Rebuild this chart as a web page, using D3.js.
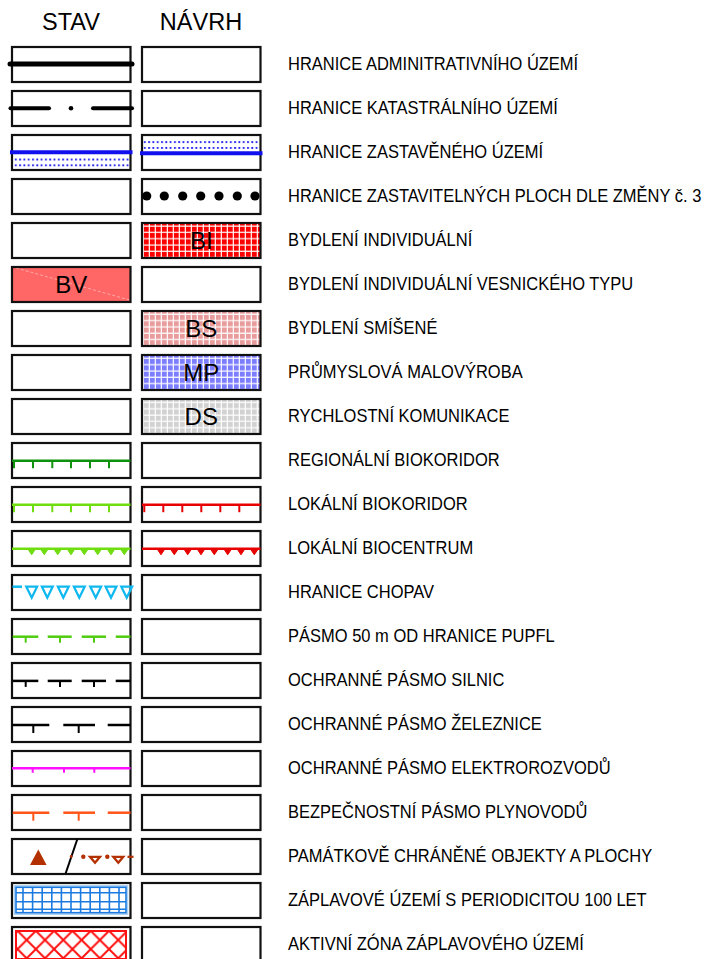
<!DOCTYPE html>
<html><head><meta charset="utf-8">
<script src="https://cdn.jsdelivr.net/npm/d3@7"></script>
<style>body{margin:0;background:#fff} svg{display:block}</style>
</head><body><svg id="c" width="707" height="959"></svg>
<script>
const headers = ["STAV", "NÁVRH"];
const labels = [
  "HRANICE ADMINITRATIVNÍHO ÚZEMÍ",
  "HRANICE KATASTRÁLNÍHO ÚZEMÍ",
  "HRANICE ZASTAVĚNÉHO ÚZEMÍ",
  "HRANICE ZASTAVITELNÝCH PLOCH DLE ZMĚNY č. 3",
  "BYDLENÍ INDIVIDUÁLNÍ",
  "BYDLENÍ INDIVIDUÁLNÍ VESNICKÉHO TYPU",
  "BYDLENÍ SMÍŠENÉ",
  "PRŮMYSLOVÁ MALOVÝROBA",
  "RYCHLOSTNÍ KOMUNIKACE",
  "REGIONÁLNÍ BIOKORIDOR",
  "LOKÁLNÍ BIOKORIDOR",
  "LOKÁLNÍ BIOCENTRUM",
  "HRANICE CHOPAV",
  "PÁSMO 50 m OD HRANICE PUPFL",
  "OCHRANNÉ PÁSMO SILNIC",
  "OCHRANNÉ PÁSMO ŽELEZNICE",
  "OCHRANNÉ PÁSMO ELEKTROROZVODŮ",
  "BEZPEČNOSTNÍ PÁSMO PLYNOVODŮ",
  "PAMÁTKOVĚ CHRÁNĚNÉ OBJEKTY A PLOCHY",
  "ZÁPLAVOVÉ ÚZEMÍ S PERIODICITOU 100 LET",
  "AKTIVNÍ ZÓNA ZÁPLAVOVÉHO ÚZEMÍ"
];
const stavSymbols = ["admin","katastr","zastavStav","","","bv","","","","regBio","lokBioStav","lokBcStav","chopav","pupfl","silnic","zeleznice","elektro","plyn","pamatky","zaplav","aktivni"];
const navrhSymbols = ["","","zastavNavrh","zastavitelne","bi","","bs","mp","ds","","lokBioNavrh","lokBcNavrh","","","","","","","","",""];
const stavTexts  = ["","","","","","BV","","","","","","","","","","","","","","",""];
const navrhTexts = ["","","","","BI","","BS","MP","DS","","","","","","","","","","","",""];

const svg = d3.select("#c");
const defs = svg.append("defs");
const FONT = "'Liberation Sans', Arial, sans-serif";

// scales
const xCol = d3.scaleBand().domain(headers).range([6, 266]);
const yRow = d3.scaleBand().domain(d3.range(labels.length)).range([45, 45 + labels.length * 44]);
const BOX_W = 118.5, BOX_H = 35;

// patterns
function gridPattern(id, bg) {
  const p = defs.append("pattern").attr("id", id).attr("patternUnits", "userSpaceOnUse")
    .attr("width", 6).attr("height", 6.3);
  p.append("rect").attr("width", 6).attr("height", 6.3).attr("fill", bg);
  p.append("rect").attr("x", 4.7).attr("width", 1.3).attr("height", 6.3).attr("fill", "#fff").attr("opacity", 0.9);
  p.append("rect").attr("y", 5).attr("width", 6).attr("height", 1.3).attr("fill", "#fff").attr("opacity", 0.9);
}
gridPattern("pBI", "#ff0000");
gridPattern("pBS", "#e89c9c");
gridPattern("pMP", "#7d7dff");
gridPattern("pDS", "#d2d2d2");
const pd = defs.append("pattern").attr("id", "pDots").attr("patternUnits", "userSpaceOnUse")
  .attr("width", 4.3).attr("height", 5.8).attr("x", 1).attr("y", 1);
pd.append("rect").attr("x", 1).attr("y", 1).attr("width", 1.8).attr("height", 1.8).attr("fill", "#1010ee");
const px = defs.append("pattern").attr("id", "pCross").attr("patternUnits", "userSpaceOnUse")
  .attr("width", 18.3).attr("height", 18.3).attr("x", 17.55).attr("y", 930.85);
px.append("path").attr("d", "M-1,-1L19.3,19.3M-1,19.3L19.3,-1").attr("stroke", "#ff1010").attr("stroke-width", 2).attr("fill", "none");

const fills = { bi: "url(#pBI)", bs: "url(#pBS)", mp: "url(#pMP)", ds: "url(#pDS)", bv: "#ff6666" };

function line(g, x1, y1, x2, y2, color, w, cap) {
  g.append("line").attr("x1", x1).attr("y1", y1).attr("x2", x2).attr("y2", y2)
    .attr("stroke", color).attr("stroke-width", w).attr("stroke-linecap", cap || "butt");
}
function tickLine(g, x0, y, color, ticks, tlen) {
  line(g, x0, y, x0 + BOX_W, y, color, 2.5);
  ticks.forEach(t => line(g, x0 + t, y, x0 + t, y + tlen, color, 2));
}
function dashTicks(g, x0, y, color, dashes, ticks, tlen) {
  dashes.forEach(d => line(g, x0 + d[0], y, x0 + d[1], y, color, 2.5));
  ticks.forEach(t => line(g, x0 + t, y, x0 + t, y + tlen, color, 2));
}
function triRow(g, x0, y, color, xs, hw, h, filled) {
  xs.forEach(t => g.append("path")
    .attr("d", `M${x0 + t - hw},${y}L${x0 + t + hw},${y}L${x0 + t},${y + h}Z`)
    .attr("fill", filled ? color : "none").attr("stroke", color)
    .attr("stroke-width", filled ? 1 : 2.3).attr("stroke-linejoin", "miter"));
}

const draw = {
  admin: (g, x0, yc) => line(g, x0 - 2, yc - 0.5, x0 + BOX_W + 1.5, yc - 0.5, "#000", 5, "round"),
  katastr: (g, x0, yc) => {
    line(g, x0 - 1.5, yc - 0.2, x0 + 37, yc - 0.2, "#000", 4, "round");
    g.append("circle").attr("cx", x0 + 59).attr("cy", yc - 0.2).attr("r", 2.3).attr("fill", "#000");
    line(g, x0 + 81, yc - 0.2, x0 + BOX_W + 1.5, yc - 0.2, "#000", 4, "round");
  },
  zastavStav: (g, x0, yc) => {
    g.append("rect").attr("x", x0 + 1).attr("y", yc + 2.5).attr("width", BOX_W - 2).attr("height", 13.5).attr("fill", "url(#pDots)");
    line(g, x0 - 2, yc - 0.2, x0 + BOX_W + 2, yc - 0.2, "#1010ee", 4);
  },
  zastavNavrh: (g, x0, yc) => {
    g.append("rect").attr("x", x0 + 1).attr("y", yc - 14.5).attr("width", BOX_W - 2).attr("height", 12).attr("fill", "url(#pDots)");
    line(g, x0 - 2, yc + 0.8, x0 + BOX_W + 2, yc + 0.8, "#1010ee", 4);
  },
  zastavitelne: (g, x0, yc) => {
    [4.7, 22.3, 40.7, 58.7, 77, 95.3, 113].forEach(t =>
      g.append("circle").attr("cx", x0 + t).attr("cy", yc - 0.5).attr("r", 4.6).attr("fill", "#000"));
  },
  regBio: (g, x0, yc) => tickLine(g, x0, yc + 0.2, "#0e920e", [2, 21, 40.3, 59, 78, 97], 7.5),
  lokBioStav: (g, x0, yc) => tickLine(g, x0, yc + 0.2, "#70dd10", [2, 21, 40.3, 59, 78, 97], 7.5),
  lokBioNavrh: (g, x0, yc) => tickLine(g, x0, yc + 0.2, "#e80000", [2.3, 21.3, 40.3, 59.3, 78.3, 97.3], 7.5),
  lokBcStav: (g, x0, yc) => {
    line(g, x0, yc + 0.3, x0 + BOX_W, yc + 0.3, "#70dd10", 2.5);
    triRow(g, x0, yc + 0.3, "#70dd10", [19.7, 32.3, 45.7, 59, 72.3, 85.7, 99, 112.3], 4, 6, true);
  },
  lokBcNavrh: (g, x0, yc) => {
    line(g, x0, yc + 0.3, x0 + BOX_W, yc + 0.3, "#e80000", 2.5);
    triRow(g, x0, yc + 0.3, "#e80000", [19, 32.3, 45.7, 59, 72.3, 85.7, 99, 112.3], 4, 6, true);
  },
  chopav: (g, x0, yc) => {
    line(g, x0 + 0.5, yc - 5.8, x0 + 10, yc - 5.8, "#10b8f0", 2.5);
    triRow(g, x0, yc - 5.8, "#10b8f0", [19.7, 35.3, 51.3, 67.3, 83.7, 99, 114.7], 5.4, 11, false);
  },
  pupfl: (g, x0, yc) => dashTicks(g, x0, yc + 0.2, "#50cc10", [[0.7, 26.3], [35.7, 59.7], [69.7, 94], [103.7, BOX_W]], [13.7, 48, 82], 6),
  silnic: (g, x0, yc) => dashTicks(g, x0, yc + 0.4, "#000", [[0.7, 26.3], [35.7, 59.7], [69.7, 94], [103.7, BOX_W]], [13.7, 48, 82], 6),
  zeleznice: (g, x0, yc) => dashTicks(g, x0, yc + 0.5, "#000", [[0.7, 37.3], [51.3, 83], [95.7, BOX_W]], [21.3, 66.7], 8),
  elektro: (g, x0, yc) => tickLine(g, x0, yc - 0.2, "#ff10ff", [20.7, 52, 82.3], 4.5),
  plyn: (g, x0, yc) => dashTicks(g, x0, yc + 0.2, "#ff5518", [[0.7, 37.3], [51.3, 83], [95.7, BOX_W]], [21.3, 66.7], 8),
  pamatky: (g, x0, yc) => {
    const c = "#b33000";
    g.append("path").attr("d", `M${x0 + 26.3},${yc - 7}L${x0 + 34.6},${yc + 8.5}L${x0 + 18},${yc + 8.5}Z`).attr("fill", c);
    line(g, x0 + 65.3, yc - 17.2, x0 + 53.7, yc + 16.8, "#000", 2);
    g.append("circle").attr("cx", x0 + 59.2).attr("cy", yc).attr("r", 1.4).attr("fill", c);
    [71.3, 95.3].forEach(t => g.append("circle").attr("cx", x0 + t).attr("cy", yc + 0.3).attr("r", 2.2).attr("fill", c));
    triRow(g, x0, yc + 0.3, c, [83, 106.3], 5, 6, false);
    line(g, x0 + 115.5, yc + 0.3, x0 + 121.5, yc + 0.3, c, 2.2);
  },
  zaplav: (g, x0, yc) => {
    const top = yc - 13.2, bot = yc + 12.2, l = x0 + 4, r = x0 + 114;
    g.append("rect").attr("x", l - 1.5).attr("y", top - 1.5).attr("width", r - l + 3).attr("height", bot - top + 3)
      .attr("fill", "none").attr("stroke", "#a8d0f4").attr("stroke-width", 1.5);
    g.append("rect").attr("x", l).attr("y", top).attr("width", r - l).attr("height", bot - top)
      .attr("fill", "#fff").attr("stroke", "#1a7ae0").attr("stroke-width", 1.6);
    d3.range(11, 110, 9.6).forEach(t => line(g, x0 + t, top, x0 + t, bot, "#1a7ae0", 1.6));
    [-7.8, 1.2, 8.8].forEach(d => line(g, l, yc + d, r, yc + d, "#1a7ae0", 1.6));
  },
  aktivni: (g, x0, yc) => {
    g.append("rect").attr("x", x0 + 4).attr("y", yc - 13.5).attr("width", 110).attr("height", 28)
      .attr("fill", "url(#pCross)").attr("stroke", "#ff1010").attr("stroke-width", 2);
  }
};

// headers
svg.append("g").selectAll("text").data(headers).join("text")
  .attr("x", d => xCol(d) + xCol.bandwidth() / 2).attr("y", 30)
  .attr("text-anchor", "middle").attr("font-family", FONT).attr("font-size", 23.5)
  .attr("fill", "#000").text(d => d);

// rows
const rows = svg.append("g").selectAll("g.row").data(labels.map((l, i) => ({ i, l })))
  .join("g").attr("class", "row");

rows.each(function (d) {
  const g = d3.select(this);
  const yTop = yRow(d.i) + 2, yc = yTop + BOX_H / 2;
  [[headers[0], stavSymbols[d.i], stavTexts[d.i]], [headers[1], navrhSymbols[d.i], navrhTexts[d.i]]].forEach(([col, sym, txt]) => {
    const x0 = xCol(col) + 6;
    const cell = g.append("g");
    cell.append("rect").attr("x", x0).attr("y", yTop).attr("width", BOX_W).attr("height", BOX_H)
      .attr("fill", fills[sym] || "#fff").attr("stroke", "none");
    if (sym === "bv") {
      cell.append("line").attr("x1", x0 + 4).attr("y1", yTop + 1).attr("x2", x0 + BOX_W - 1).attr("y2", yTop + BOX_H - 2)
        .attr("stroke", "#ffb8b8").attr("stroke-width", 0.8).attr("stroke-dasharray", "3,2");
    }
    cell.append("rect").attr("x", x0).attr("y", yTop).attr("width", BOX_W).attr("height", BOX_H)
      .attr("fill", "none").attr("stroke", "#111").attr("stroke-width", 2.2);
    if (draw[sym]) draw[sym](cell, x0, yc);
    if (txt) {
      cell.append("text").attr("x", x0 + BOX_W / 2).attr("y", yc + 8.5).attr("text-anchor", "middle")
        .attr("font-family", FONT).attr("font-size", 24).attr("fill", "#000").text(txt);
    }
  });
  g.append("text").attr("class", "lbl").attr("font-family", FONT).attr("font-size", 17.8)
    .attr("fill", "#000").attr("data-y", yc + 5.8).text(d.l);
});

// condense label text to match the original narrow lettering
const first = svg.select("text.lbl").node();
const k = 290 / first.getComputedTextLength();
svg.selectAll("text.lbl").attr("transform", function () {
  return `translate(288,${this.getAttribute("data-y")}) scale(${k},1)`;
});
</script>
</body></html>
